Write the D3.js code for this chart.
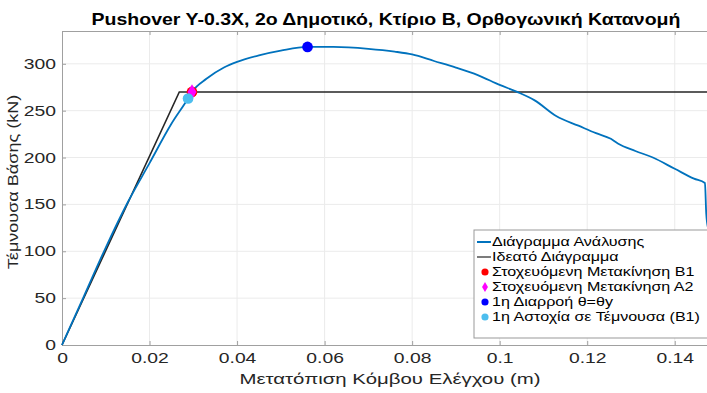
<!DOCTYPE html>
<html>
<head>
<meta charset="utf-8">
<script src="https://cdn.jsdelivr.net/npm/d3@7"></script>
<style>
  body { margin: 0; background: #fff; }
  text { font-family: "Liberation Sans", Arial, sans-serif; }
</style>
</head>
<body>
<div id="chart"></div>
<script>
// ---- data ----
const analysisX = [0, 0.005, 0.01, 0.015, 0.02, 0.025, 0.0288, 0.0297, 0.033, 0.037, 0.04, 0.045, 0.05, 0.056, 0.062, 0.07, 0.076, 0.08, 0.085, 0.09, 0.095, 0.1, 0.104, 0.108, 0.113, 0.118, 0.122, 0.1254, 0.127, 0.131, 0.135, 0.14, 0.1444, 0.1469, 0.1472, 0.1476];
const analysisY = [0, 52, 104, 152, 194, 236, 263, 270, 284, 296, 302, 309, 314, 318, 318, 316, 313, 310, 303, 296, 288, 277.5, 270, 261, 244, 234, 226, 220, 215, 207, 200, 188, 177.5, 172.8, 140, 125];
const idealX = [0, 0.0268, 0.1476];
const idealY = [0, 270, 270];
const markerNames = ['Στοχευόμενη Μετακίνηση Β1', 'Στοχευόμενη Μετακίνηση Α2', '1η Διαρροή θ=θy', '1η Αστοχία σε Τέμνουσα (B1)'];
const markerX = [0.0297, 0.0297, 0.0561, 0.0288];
const markerY = [270, 270, 318, 263];
const xTicks = [0, 0.02, 0.04, 0.06, 0.08, 0.1, 0.12, 0.14];
const yTicks = [0, 50, 100, 150, 200, 250, 300];
const lineNames = ['Διάγραμμα Ανάλυσης', 'Ιδεατό Διάγραμμα'];

const colors = {
  analysis: '#0072BD',
  ideal: '#262626',
  markers: ['#ff0000', '#ff00ff', '#0000ff', '#4dbeee'],
  grid: '#ebebeb',
  axis: '#a0a0a0',
  text: '#262626'
};

// the picture's lettering is drawn wide, so text gets a horizontal stretch
const stretch = 1.38;

const W = 707, H = 393;
const margin = {top: 31, right: -1, bottom: 48, left: 62};
const innerW = W - margin.left - margin.right;
const innerH = H - margin.top - margin.bottom;

const svg = d3.select('#chart').append('svg')
  .attr('width', W)
  .attr('height', H);

const g = svg.append('g')
  .attr('transform', 'translate(' + margin.left + ',' + margin.top + ')');

//-------------------- Scales --------------------
const x = d3.scaleLinear().domain([0, 0.1476]).range([0, innerW]);
const y = d3.scaleLinear().domain([0, 335]).range([innerH, 0]);

//-------------------- Grid --------------------
g.append('g').selectAll('line').data(xTicks.slice(1)).enter().append('line')
  .attr('x1', d => x(d)).attr('x2', d => x(d))
  .attr('y1', 0).attr('y2', innerH)
  .attr('stroke', colors.grid);
g.append('g').selectAll('line').data(yTicks.slice(1)).enter().append('line')
  .attr('x1', 0).attr('x2', innerW)
  .attr('y1', d => y(d)).attr('y2', d => y(d))
  .attr('stroke', colors.grid);

//-------------------- Axes --------------------
const xAxis = d3.axisBottom(x).tickValues(xTicks).tickSize(-4).tickPadding(8)
  .tickFormat(d => d === 0 ? '0' : d3.format('~g')(d));
const xAxisTop = d3.axisTop(x).tickValues(xTicks).tickSize(-4).tickFormat('');
const yAxis = d3.axisLeft(y).tickValues(yTicks).tickSize(-4);

function styleAxis(sel){
  sel.select('.domain').attr('stroke', colors.axis);
  sel.selectAll('line').attr('stroke', colors.axis);
  sel.selectAll('text').attr('fill', colors.text).style('font-size', '14px');
}
g.append('g').attr('transform', 'translate(0,' + innerH + ')').call(xAxis).call(styleAxis)
  .selectAll('text').attr('transform', 'scale(' + stretch + ',1)');
g.append('g').call(xAxisTop).call(styleAxis);
g.append('g').call(yAxis).call(styleAxis)
  .selectAll('text').attr('x', 0).attr('transform', 'translate(-6,0) scale(' + stretch + ',1)');

//-------------------- Lines --------------------
const line = d3.line().x(d => x(d[0])).y(d => y(d[1])).curve(d3.curveMonotoneX);

g.append('path')
  .datum(idealX.map((v, i) => [v, idealY[i]]))
  .attr('d', d3.line().x(d => x(d[0])).y(d => y(d[1])))
  .attr('fill', 'none')
  .attr('stroke', colors.ideal)
  .attr('stroke-width', 1.6);

g.append('path')
  .datum(analysisX.map((v, i) => [v, analysisY[i]]))
  .attr('d', line)
  .attr('fill', 'none')
  .attr('stroke', colors.analysis)
  .attr('stroke-width', 1.8);

//-------------------- Markers --------------------
const symbols = [d3.symbolCircle, d3.symbolDiamond, d3.symbolCircle, d3.symbolCircle];
g.append('g').selectAll('path').data(markerX).enter().append('path')
  .attr('transform', (d, i) => 'translate(' + x(d) + ',' + y(markerY[i]) + ')')
  .attr('d', (d, i) => d3.symbol().type(symbols[i]).size(i === 1 ? 70 : 90)())
  .attr('fill', (d, i) => colors.markers[i]);

//-------------------- Titles --------------------
function stretchedText(parent, px, py, size, txt, sx){
  return parent.append('text')
    .attr('transform', 'translate(' + px + ',' + py + ') scale(' + sx + ',1)')
    .attr('text-anchor', 'middle')
    .style('font-size', size + 'px')
    .text(txt);
}
stretchedText(svg, 386, 25, 16, 'Pushover Y-0.3X, 2ο Δημοτικό, Κτίριο Β, Ορθογωνική Κατανομή', 1.22)
  .style('font-weight', 'bold').attr('fill', '#000');

stretchedText(svg, 390, 384, 15, 'Μετατόπιση Κόμβου Ελέγχου (m)', 1.36)
  .attr('fill', colors.text);

svg.append('text')
  .attr('transform', 'translate(18,182) rotate(-90) scale(1.29,1)')
  .attr('text-anchor', 'middle')
  .style('font-size', '14px')
  .attr('fill', colors.text)
  .text('Τέμνουσα Βάσης (kN)');

//-------------------- Legend --------------------
const legend = svg.append('g').attr('transform', 'translate(474,230)');
legend.append('rect')
  .attr('width', 240).attr('height', 108)
  .attr('fill', '#fff').attr('stroke', '#999');
const rowY = i => 12 + i * 15;
function legendLabel(i, name){
  legend.append('text')
    .attr('transform', 'translate(18,' + rowY(i) + ') scale(1.34,1)')
    .attr('dy', '0.35em')
    .style('font-size', '12px').attr('fill', '#000').text(name);
}
lineNames.forEach((name, i) => {
  legend.append('line')
    .attr('x1', 3).attr('x2', 17).attr('y1', rowY(i)).attr('y2', rowY(i))
    .attr('stroke', i === 0 ? colors.analysis : colors.ideal)
    .attr('stroke-width', i === 0 ? 2 : 1.2);
  legendLabel(i, name);
});
markerNames.forEach((name, i) => {
  legend.append('path')
    .attr('transform', 'translate(11,' + rowY(i + 2) + ')')
    .attr('d', d3.symbol().type(symbols[i]).size(i === 1 ? 30 : 40)())
    .attr('fill', colors.markers[i]);
  legendLabel(i + 2, name);
});
</script>
</body>
</html>
